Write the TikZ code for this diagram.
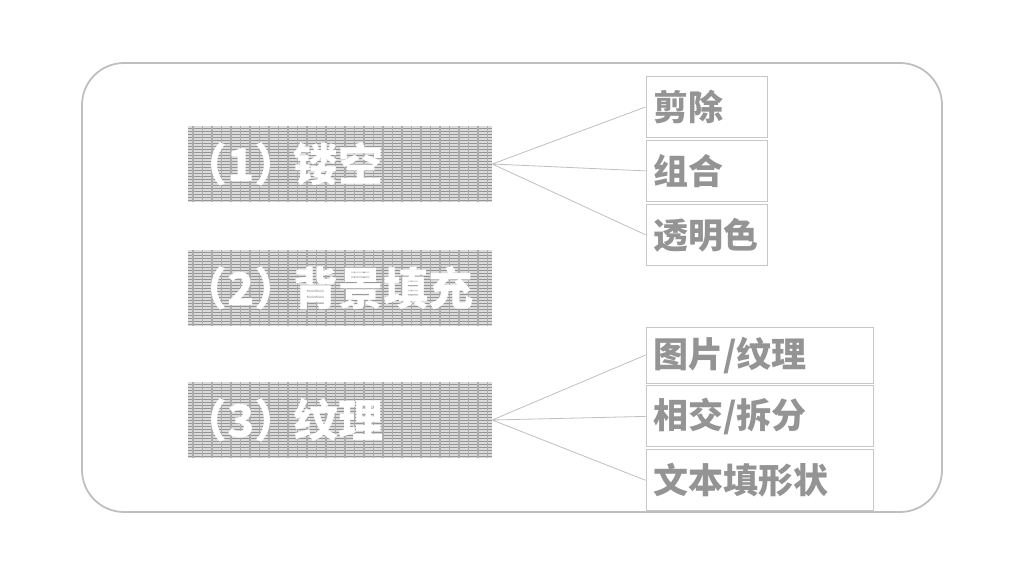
\documentclass[tikz,border=0pt]{standalone}
\usepackage{fontspec}
\setmainfont{Noto Sans CJK SC}
\usetikzlibrary{positioning}

\tikzset{
    hatch/.style={path picture={
        \fill[black!14] (path picture bounding box.south west) rectangle (path picture bounding box.north east);
        \foreach \i in {1.5,4.5,...,79}
            \draw[black!42, line width=1.4pt] ([yshift=\i pt]path picture bounding box.south west) -- ([yshift=\i pt]path picture bounding box.south east);
        \foreach \j in {5,14.5,...,310}
            \draw[black!32, line width=1.6pt] ([xshift=\j pt]path picture bounding box.south west) -- ([xshift=\j pt]path picture bounding box.north west);
    }},
    topic/.style={hatch, minimum height=76pt, text width=296pt, inner xsep=4pt, inner ysep=0pt,
        align=left, text=white, font=\fontsize{45}{45}\selectfont\bfseries},
    item/.style={draw=black!22, line width=0.9pt, minimum height=61pt, inner xsep=7pt, inner ysep=0pt,
        align=left, text=black!42, font=\fontsize{35}{35}\selectfont\bfseries},
    link/.style={draw=black!25, line width=0.8pt}
}
% tighter full-width brackets
\newcommand{\num}[1]{\hspace*{-10pt}（#1）\hspace*{-6pt}}

\begin{document}
\begin{tikzpicture}[x=1pt, y=-1pt, node distance=2pt]
    \useasboundingbox (0,0) rectangle (1024,576);
    \draw[black!25, line width=1.8pt, rounded corners=42pt] (82,63) rectangle (942,512);

    \node[topic] (t1) at (340,164) {\num{1}镂空};
    \node[topic] (t2) at (340,288) {\num{2}背景填充};
    \node[topic] (t3) at (340,420) {\num{3}纹理};

    \node[item, text width=107pt] (a1) at (706.5,107) {剪除};
    \node[item, text width=107pt] (a2) [below=of a1] {组合};
    \node[item, text width=107pt] (a3) [below=of a2] {透明色};

    \node[item, text width=213pt, minimum height=56pt] (b1) at (759.5,355) {图片/纹理};
    \node[item, text width=213pt] (b2) [below=of b1] {相交/拆分};
    \node[item, text width=213pt] (b3) [below=of b2] {文本填形状};

    \path[link]
    (t1.east) -- (a1.west)
    (t1.east) -- (a2.west)
    (t1.east) -- (a3.west)
    (t3.east) -- (b1.west)
    (t3.east) -- (b2.west)
    (t3.east) -- (b3.west);
\end{tikzpicture}
\end{document}
